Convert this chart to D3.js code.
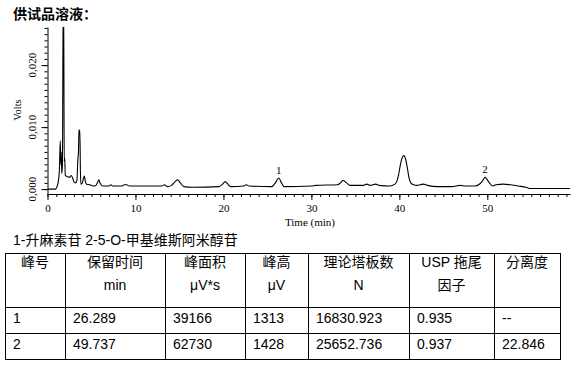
<!DOCTYPE html>
<html><head><meta charset="utf-8">
<script src="https://cdn.jsdelivr.net/npm/d3@7"></script>
<style>
html,body{margin:0;padding:0;background:#fff;}
svg{display:block;}
</style></head>
<body>
<svg id="c" width="581" height="368"></svg>
<script>
// ---- Data ----
const title = "供试品溶液：";
const caption = "1-升麻素苷 2-5-O-甲基维斯阿米醇苷";
const times = [0.0,0.9,1.05,1.2,1.35,1.45,1.52,1.56,1.62,1.70,1.78,1.84,1.90,1.96,2.02,2.3,2.5,2.7,2.9,3.0,3.2,3.35,3.45,3.52,3.58,3.63,3.68,3.74,3.80,3.95,4.1,4.2,4.3,4.45,4.8,5.2,5.5,5.7,5.85,6.0,6.3,7.0,7.2,7.4,8.5,8.7,9.0,9.3,13.0,13.3,13.6,14.1,14.5,14.8,15.1,15.5,16.5,19.5,19.9,20.2,20.5,20.8,22.3,22.6,22.9,25.5,25.9,26.29,26.6,26.9,30.0,30.5,33.0,33.3,33.6,34.0,34.4,35.9,36.3,36.7,37.3,37.7,38.9,39.5,39.7,39.9,40.1,40.3,40.5,40.7,40.9,41.1,41.3,41.6,42.0,42.7,43.2,44.3,46.0,46.9,47.6,48.6,49.2,49.5,49.74,50.0,50.3,50.6,51.0,51.8,52.6,53.5,54.4,54.8,59.4];
const volts = [0.0000,0.0000,0.0003,0.0010,0.0030,0.0078,0.0040,0.0060,0.0025,0.0040,0.0300,0.0300,0.0045,0.0050,0.0022,0.0020,0.0019,0.0022,0.0016,0.0012,0.0010,0.0015,0.0048,0.0060,0.0096,0.0090,0.0094,0.0030,0.0008,0.0010,0.0018,0.0021,0.0012,0.0008,0.0007,0.0005,0.0006,0.0011,0.0015,0.0009,0.0005,0.0005,0.0007,0.0005,0.0005,0.0007,0.0007,0.0005,0.0005,0.0007,0.0004,0.0006,0.0012,0.0015,0.0010,0.0004,0.0003,0.0004,0.0008,0.0012,0.0008,0.0004,0.0005,0.0007,0.0005,0.0004,0.0010,0.0018,0.0010,0.0004,0.0005,0.0006,0.0007,0.0010,0.0014,0.0010,0.0006,0.0006,0.0008,0.0006,0.0008,0.0006,0.0005,0.0008,0.0012,0.0022,0.0038,0.0050,0.0054,0.0049,0.0035,0.0018,0.0010,0.0007,0.0006,0.0008,0.0006,0.0004,0.0004,0.0006,0.0005,0.0005,0.0009,0.0014,0.0019,0.0015,0.0009,0.0005,0.0007,0.0008,0.0007,0.0005,0.0003,0.0001,0.0001];
const peakLabels = ["1","2"];
const peakTimes = [26.289, 49.737];
const peakHeights = [0.0018, 0.0019];
const xMajorTicks = [0,10,20,30,40,50];
const yMajorTicks = [0.000,0.010,0.020];
const yTickLabels = ["0,000","0,010","0,020"];
const headerLine1 = ["峰号","保留时间","峰面积","峰高","理论塔板数","USP 拖尾","分离度"];
const headerLine2 = ["","min","μV*s","μV","N","因子",""];
const row1 = ["1","26.289","39166","1313","16830.923","0.935","--"];
const row2 = ["2","49.737","62730","1428","25652.736","0.937","22.846"];

// ---- Layout ----
const svg = d3.select("#c");
const L = 47.5, R = 570, T = 27, B = 194;
const x = d3.scaleLinear().domain([0, 59.4]).range([L, R]);
const y = d3.scaleLinear().domain([-0.00079, 0.02615]).range([B, T]);
const serif = "'Liberation Serif','Times New Roman',serif";
const sans = "'Liberation Sans',Arial,'Noto Sans CJK SC',sans-serif";

svg.append("text").attr("x",13).attr("y",19)
  .attr("font-family","'Noto Sans CJK SC',sans-serif").attr("font-weight",700)
  .attr("font-size",14).attr("fill","#000").text(title);

svg.append("defs").append("clipPath").attr("id","clip")
  .append("rect").attr("x",L).attr("y",T).attr("width",R-L).attr("height",B-T);

// X axis
const xMinor = d3.range(0, 60, 1);
const gx = svg.append("g").attr("transform",`translate(0,${B})`);
gx.call(d3.axisBottom(x).tickValues(xMinor).tickSize(3).tickFormat(""));
gx.call(g=>g.select(".domain").remove());
const gx2 = svg.append("g").attr("transform",`translate(0,${B})`);
gx2.call(d3.axisBottom(x).tickValues(xMajorTicks).tickSize(6).tickSizeOuter(0).tickPadding(4).tickFormat(d3.format("d")));
gx2.selectAll("text").attr("font-family",serif).attr("font-size",11).attr("fill","#000");
gx2.select(".domain").attr("stroke","#000");

svg.append("text").attr("x",310).attr("y",226).attr("text-anchor","middle")
  .attr("font-family",serif).attr("font-size",11).attr("fill","#000").text("Time (min)");

// Y axis
const yMinor = d3.range(0, 0.0262, 0.001);
const gy = svg.append("g").attr("transform",`translate(${L},0)`);
gy.call(d3.axisLeft(y).tickValues(yMinor).tickSize(3).tickFormat(""));
gy.call(g=>g.select(".domain").remove());
const gy2 = svg.append("g").attr("transform",`translate(${L},0)`);
gy2.call(d3.axisLeft(y).tickValues(yMajorTicks).tickSize(6).tickSizeOuter(0).tickFormat(""));
gy2.select(".domain").attr("stroke","#000");
svg.selectAll("line").attr("stroke","#000");
yMajorTicks.forEach((v,i)=>{
  svg.append("text").attr("transform",`translate(36,${y(v)}) rotate(-90)`)
    .attr("text-anchor","middle").attr("font-family",serif).attr("font-size",11)
    .attr("fill","#000").text(yTickLabels[i]);
});
svg.append("text").attr("transform",`translate(21,110) rotate(-90)`)
  .attr("text-anchor","middle").attr("font-family",serif).attr("font-size",10.5)
  .attr("fill","#000").text("Volts");

// Trace
const pts = times.map((t,i)=>[t, volts[i]]);
svg.append("path").datum(pts).attr("clip-path","url(#clip)")
  .attr("fill","none").attr("stroke","#000").attr("stroke-width",1.1)
  .attr("d", d3.line().x(d=>x(d[0])).y(d=>y(d[1])).curve(d3.curveMonotoneX));

peakLabels.forEach((lab,i)=>{
  svg.append("text").attr("x",x(peakTimes[i])).attr("y",y(peakHeights[i])-4)
    .attr("text-anchor","middle").attr("font-family",serif).attr("font-size",11)
    .attr("fill","#000").text(lab);
});

// Caption & table
svg.append("text").attr("x",13).attr("y",245).attr("font-family",sans)
  .attr("font-size",14).attr("fill","#000").text(caption);

const colX = [5,65,165,245,308,409,494,560];
const rowY = [253,307,333,359];
const tg = svg.append("g");
rowY.forEach(ry=>tg.append("line").attr("x1",colX[0]).attr("x2",colX[colX.length-1]).attr("y1",ry+0.5).attr("y2",ry+0.5).attr("stroke","#000"));
colX.forEach(cx=>tg.append("line").attr("x1",cx+0.5).attr("x2",cx+0.5).attr("y1",rowY[0]).attr("y2",rowY[rowY.length-1]+1).attr("stroke","#000"));
const cell = (txt,xx,yy,anchor)=>tg.append("text").attr("x",xx).attr("y",yy).attr("text-anchor",anchor)
  .attr("font-family",sans).attr("font-size",14).attr("fill","#000").text(txt);
headerLine1.forEach((h,i)=>cell(h,(colX[i]+colX[i+1])/2,267,"middle"));
headerLine2.forEach((h,i)=>{ if(h) cell(h,(colX[i]+colX[i+1])/2,290,"middle"); });
row1.forEach((v,i)=>cell(v,colX[i]+8,322.5,"start"));
row2.forEach((v,i)=>cell(v,colX[i]+8,349,"start"));
</script>
</body></html>
